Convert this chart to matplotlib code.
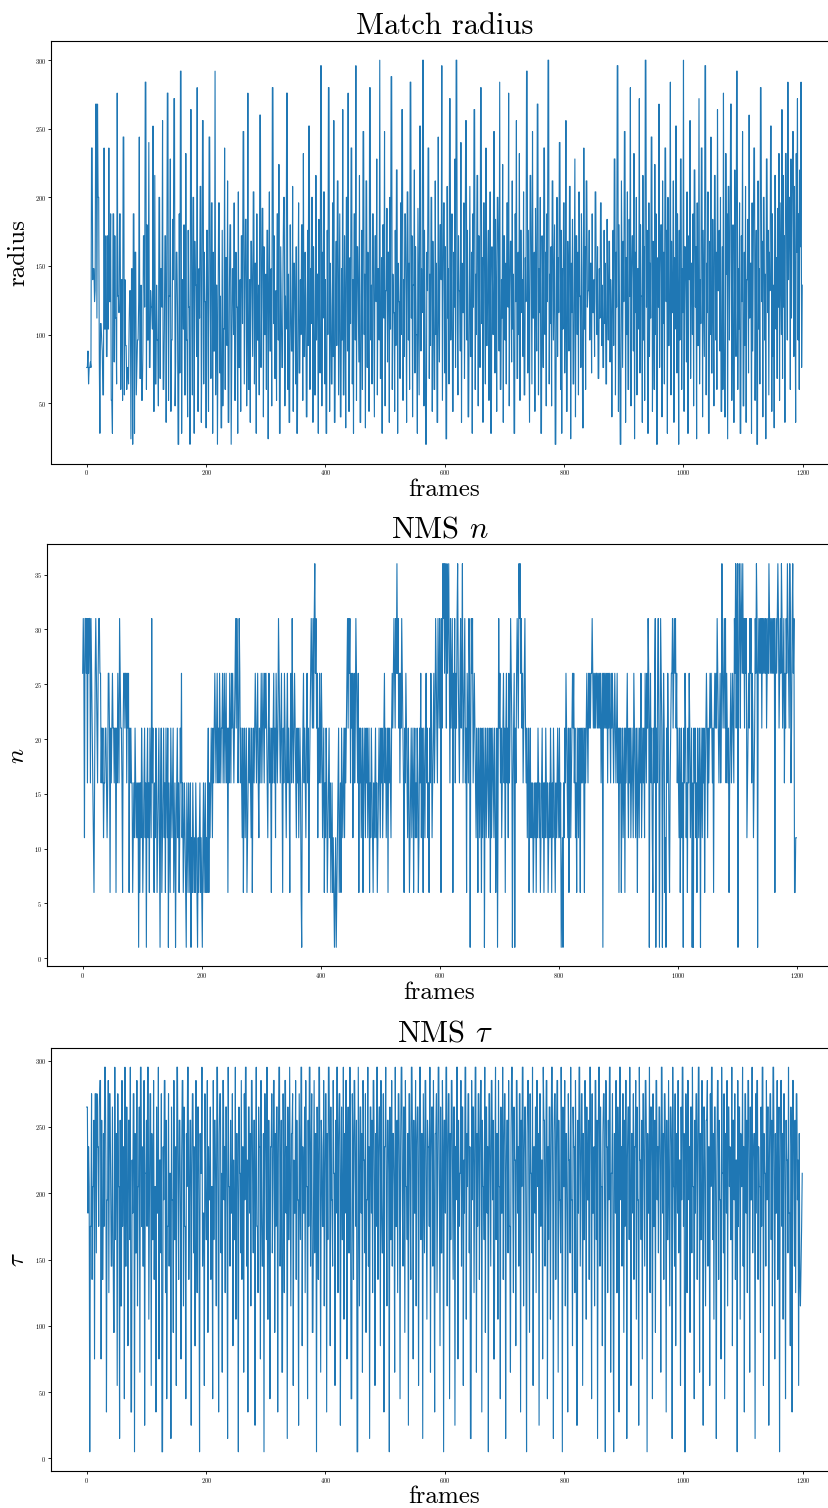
import numpy as np
import matplotlib
matplotlib.use("Agg")
import matplotlib.pyplot as plt

plt.rcParams['font.family'] = 'serif'
plt.rcParams['font.serif'] = ['cmr10']
plt.rcParams['mathtext.fontset'] = 'cm'
plt.rcParams['axes.formatter.use_mathtext'] = True

# match radius per frame
radius = [
    76, 76, 88, 64, 76, 76, 80, 76, 236, 236, 140, 148, 148, 124, 132, 268, 268, 112, 268, 200, 200, 80, 28, 108, 108, 96, 88, 56, 56, 236, 104, 104, 172, 84, 84, 172, 104, 236, 124, 124,
    188, 52, 52, 28, 188, 188, 80, 172, 112, 112, 64, 276, 128, 128, 116, 188, 188, 60, 140, 140, 52, 244, 244, 56, 140, 92, 92, 60, 76, 76, 64, 108, 132, 132, 24, 148, 148, 20, 188, 188,
    28, 160, 160, 56, 76, 96, 96, 124, 244, 68, 68, 136, 52, 52, 88, 172, 172, 120, 284, 284, 60, 180, 96, 96, 240, 76, 76, 132, 120, 120, 104, 252, 44, 44, 216, 64, 64, 136, 96, 96,
    48, 200, 200, 68, 148, 148, 120, 256, 60, 60, 104, 172, 172, 36, 116, 276, 276, 52, 128, 128, 228, 44, 96, 96, 184, 140, 272, 272, 48, 80, 160, 160, 120, 20, 20, 188, 72, 292, 292, 28,
    140, 140, 104, 180, 56, 56, 232, 96, 96, 40, 176, 120, 120, 20, 264, 264, 104, 56, 200, 200, 28, 168, 136, 136, 84, 280, 44, 44, 148, 112, 208, 208, 36, 100, 256, 256, 64, 160, 124, 124,
    32, 176, 176, 92, 44, 244, 244, 120, 68, 196, 196, 28, 160, 88, 88, 292, 56, 136, 136, 20, 116, 196, 196, 72, 128, 32, 32, 176, 48, 104, 104, 236, 60, 156, 156, 92, 212, 36, 36, 132,
    180, 180, 20, 88, 148, 148, 100, 196, 52, 52, 160, 120, 120, 28, 204, 76, 76, 140, 44, 172, 172, 108, 248, 248, 64, 124, 184, 184, 48, 100, 276, 60, 60, 140, 36, 168, 168, 124, 84, 204,
    204, 64, 152, 152, 28, 188, 96, 96, 136, 56, 260, 260, 76, 120, 192, 192, 40, 164, 100, 100, 144, 60, 176, 176, 24, 128, 204, 88, 88, 148, 48, 280, 280, 108, 172, 68, 68, 132, 52, 188,
    188, 96, 224, 28, 28, 164, 116, 76, 76, 156, 200, 200, 48, 128, 104, 276, 276, 60, 144, 36, 36, 180, 120, 88, 88, 208, 44, 152, 152, 112, 64, 164, 28, 28, 128, 196, 72, 72, 140, 100,
    180, 180, 52, 232, 84, 84, 160, 124, 40, 40, 176, 92, 252, 252, 60, 148, 108, 200, 200, 36, 164, 124, 56, 56, 216, 96, 144, 144, 28, 184, 120, 72, 296, 296, 48, 160, 112, 204, 204, 64,
    140, 28, 28, 176, 100, 280, 280, 44, 152, 120, 64, 64, 196, 84, 256, 36, 36, 132, 168, 92, 212, 212, 56, 124, 188, 40, 40, 148, 96, 264, 56, 56, 172, 120, 32, 200, 200, 88, 276, 44,
    44, 156, 108, 236, 236, 64, 140, 28, 188, 188, 96, 296, 52, 164, 164, 124, 80, 216, 36, 36, 128, 176, 60, 248, 248, 100, 144, 32, 212, 212, 76, 160, 116, 44, 280, 280, 96, 136, 64, 188,
    188, 108, 40, 172, 172, 124, 228, 56, 148, 148, 96, 300, 68, 68, 156, 28, 180, 180, 112, 248, 48, 132, 132, 192, 80, 160, 160, 36, 200, 104, 288, 288, 60, 144, 116, 116, 44, 176, 92, 220,
    220, 28, 152, 124, 124, 68, 196, 100, 264, 264, 52, 140, 84, 188, 188, 128, 36, 204, 204, 96, 152, 60, 284, 284, 112, 172, 40, 136, 136, 220, 72, 164, 100, 100, 28, 192, 124, 56, 252, 252,
    88, 148, 116, 300, 300, 48, 176, 104, 20, 20, 160, 132, 236, 236, 68, 144, 92, 200, 200, 44, 168, 120, 60, 60, 212, 100, 152, 36, 36, 244, 116, 80, 180, 180, 140, 296, 52, 128, 196, 196,
    72, 164, 24, 24, 208, 112, 148, 64, 272, 272, 96, 136, 188, 44, 44, 160, 120, 228, 76, 300, 300, 104, 56, 172, 132, 132, 88, 240, 36, 152, 116, 116, 196, 68, 140, 256, 256, 96, 176, 40,
    40, 124, 208, 84, 84, 160, 28, 188, 120, 264, 264, 60, 144, 100, 216, 216, 48, 172, 132, 76, 280, 280, 108, 156, 36, 196, 196, 120, 64, 236, 92, 92, 148, 176, 52, 112, 204, 28, 28, 164,
    136, 100, 248, 248, 72, 184, 128, 44, 200, 200, 156, 88, 284, 60, 60, 140, 112, 224, 36, 172, 172, 96, 152, 64, 196, 196, 120, 276, 48, 132, 168, 168, 80, 212, 104, 144, 28, 28, 188, 124,
    256, 68, 68, 160, 100, 232, 52, 176, 176, 116, 140, 84, 204, 56, 56, 156, 124, 292, 292, 72, 176, 100, 36, 216, 216, 136, 64, 248, 112, 112, 160, 44, 192, 128, 88, 268, 268, 56, 148, 116,
    200, 28, 28, 172, 136, 76, 236, 236, 100, 160, 48, 188, 124, 300, 300, 64, 144, 108, 164, 48, 212, 212, 96, 140, 180, 20, 20, 132, 200, 84, 156, 116, 240, 240, 60, 176, 28, 148, 104, 196,
    196, 72, 120, 256, 44, 44, 168, 136, 88, 208, 208, 24, 152, 116, 184, 64, 64, 140, 228, 40, 172, 172, 100, 160, 56, 204, 128, 128, 76, 188, 148, 32, 32, 236, 104, 164, 60, 212, 212, 120,
    132, 132, 176, 96, 152, 152, 72, 188, 116, 116, 140, 84, 204, 204, 124, 100, 164, 68, 68, 148, 112, 196, 196, 92, 136, 76, 76, 176, 108, 152, 64, 64, 184, 128, 96, 168, 168, 80, 140, 116,
    40, 132, 176, 92, 228, 228, 56, 160, 120, 296, 296, 44, 180, 104, 20, 20, 212, 140, 76, 168, 124, 248, 248, 36, 156, 100, 204, 60, 60, 184, 128, 280, 48, 140, 172, 172, 88, 232, 24, 160,
    116, 200, 56, 148, 148, 104, 272, 72, 180, 128, 128, 36, 216, 96, 164, 52, 300, 300, 120, 176, 28, 28, 196, 84, 152, 112, 244, 244, 44, 168, 132, 60, 224, 100, 188, 20, 20, 156, 120, 268,
    76, 144, 180, 180, 40, 212, 108, 160, 64, 236, 236, 124, 176, 28, 200, 92, 92, 148, 284, 56, 168, 116, 116, 212, 36, 156, 104, 252, 252, 72, 188, 132, 20, 176, 96, 228, 228, 60, 148, 116,
    300, 44, 164, 164, 128, 80, 204, 28, 28, 172, 140, 256, 68, 152, 152, 100, 188, 48, 220, 220, 120, 164, 24, 196, 92, 92, 272, 64, 140, 108, 236, 236, 40, 176, 132, 84, 296, 296, 56, 152,
    116, 204, 28, 28, 168, 100, 244, 72, 72, 184, 124, 48, 216, 216, 96, 160, 60, 264, 132, 132, 176, 88, 200, 44, 44, 164, 60, 276, 112, 40, 40, 232, 144, 188, 24, 208, 208, 96, 156, 268,
    268, 52, 132, 180, 36, 36, 220, 120, 84, 292, 292, 60, 148, 104, 196, 28, 28, 172, 124, 248, 48, 48, 160, 92, 208, 36, 140, 140, 184, 72, 260, 112, 152, 152, 28, 196, 88, 156, 236, 236,
    52, 128, 176, 20, 20, 212, 104, 148, 64, 280, 280, 124, 168, 40, 200, 200, 96, 144, 24, 228, 228, 116, 176, 56, 160, 132, 252, 252, 44, 188, 84, 136, 32, 216, 216, 104, 156, 68, 192, 120,
    232, 52, 196, 148, 100, 264, 68, 216, 120, 172, 36, 232, 232, 156, 96, 284, 140, 200, 200, 60, 228, 112, 176, 248, 248, 84, 208, 132, 36, 232, 160, 272, 96, 188, 60, 220, 164, 284, 76, 136,
]

# NMS n per frame
nms_n = [
    26, 31, 26, 11, 31, 31, 26, 31, 16, 31, 26, 31, 31, 16, 31, 26, 21, 16, 11, 6, 16, 26, 31, 26, 21, 16, 26, 31, 31, 26, 26, 16, 21, 16, 21, 11, 16, 16, 21, 21,
    16, 11, 16, 26, 26, 21, 6, 21, 16, 21, 26, 21, 21, 16, 21, 21, 6, 21, 16, 26, 21, 16, 31, 26, 21, 21, 16, 6, 21, 26, 26, 21, 26, 26, 16, 26, 21, 26, 6, 21,
    16, 21, 16, 16, 6, 11, 16, 11, 21, 16, 11, 16, 11, 16, 1, 16, 6, 16, 11, 21, 16, 6, 11, 16, 21, 11, 16, 1, 16, 21, 11, 16, 6, 21, 16, 11, 31, 16, 21, 11,
    6, 16, 11, 21, 16, 6, 11, 16, 21, 11, 1, 16, 21, 6, 11, 16, 21, 11, 16, 6, 21, 16, 11, 21, 1, 16, 11, 6, 21, 16, 11, 16, 21, 6, 11, 16, 1, 11, 16, 21,
    11, 16, 6, 11, 21, 16, 26, 11, 16, 6, 11, 16, 11, 6, 1, 16, 11, 6, 16, 11, 6, 16, 1, 11, 6, 16, 11, 6, 11, 6, 16, 11, 6, 1, 11, 6, 11, 16, 6, 11,
    6, 1, 11, 16, 6, 11, 16, 6, 11, 6, 16, 21, 6, 16, 11, 16, 21, 16, 11, 21, 16, 21, 26, 21, 16, 21, 26, 16, 21, 16, 26, 21, 16, 21, 21, 26, 16, 21, 26, 16,
    21, 26, 16, 21, 6, 21, 16, 26, 21, 16, 26, 21, 26, 21, 16, 21, 26, 31, 21, 31, 26, 16, 21, 31, 26, 16, 21, 16, 11, 21, 6, 16, 21, 11, 16, 21, 6, 11, 16, 21,
    16, 21, 16, 11, 21, 6, 16, 21, 16, 21, 26, 21, 16, 21, 26, 16, 11, 21, 16, 21, 26, 16, 21, 26, 21, 16, 26, 21, 26, 21, 16, 11, 21, 26, 16, 21, 16, 6, 21, 16,
    21, 26, 16, 21, 11, 26, 21, 16, 21, 31, 26, 21, 16, 21, 26, 16, 6, 21, 16, 26, 21, 16, 11, 21, 26, 16, 21, 16, 6, 21, 26, 16, 31, 21, 16, 21, 26, 21, 16, 11,
    21, 16, 21, 11, 16, 21, 16, 6, 1, 16, 21, 26, 16, 21, 16, 11, 21, 26, 16, 21, 6, 16, 21, 26, 31, 26, 21, 31, 21, 31, 36, 26, 31, 21, 26, 11, 21, 16, 26, 21,
    16, 26, 21, 11, 16, 21, 6, 16, 11, 21, 16, 6, 11, 16, 21, 11, 16, 6, 11, 16, 6, 11, 6, 1, 6, 11, 1, 6, 11, 16, 21, 6, 11, 16, 6, 21, 16, 11, 16, 21,
    11, 21, 16, 21, 26, 31, 21, 31, 26, 31, 16, 26, 21, 26, 11, 21, 26, 16, 21, 31, 26, 21, 16, 26, 6, 21, 16, 21, 11, 16, 21, 6, 16, 21, 16, 11, 21, 16, 21, 11,
    16, 21, 6, 16, 11, 21, 16, 11, 6, 16, 11, 16, 21, 11, 16, 6, 11, 16, 21, 16, 11, 21, 16, 21, 11, 16, 21, 26, 16, 21, 11, 16, 21, 6, 21, 16, 21, 16, 11, 21,
    26, 21, 26, 31, 26, 21, 31, 26, 36, 26, 31, 21, 26, 16, 26, 21, 31, 26, 21, 16, 6, 21, 16, 26, 21, 16, 11, 21, 16, 6, 11, 16, 21, 11, 16, 21, 6, 16, 21, 11,
    16, 11, 21, 16, 6, 11, 21, 16, 26, 11, 21, 16, 6, 21, 16, 11, 21, 26, 16, 21, 11, 16, 6, 21, 16, 26, 21, 11, 16, 21, 26, 16, 21, 31, 26, 21, 16, 31, 26, 21,
    31, 26, 6, 31, 21, 36, 31, 36, 26, 36, 31, 21, 36, 26, 31, 36, 26, 16, 31, 21, 26, 31, 6, 26, 21, 31, 16, 26, 21, 31, 36, 26, 21, 16, 26, 31, 21, 26, 36, 16,
    21, 26, 31, 16, 21, 6, 26, 21, 16, 31, 26, 1, 21, 31, 26, 31, 16, 21, 26, 21, 16, 11, 21, 16, 6, 21, 16, 11, 21, 16, 6, 21, 11, 16, 21, 1, 16, 21, 11, 16,
    21, 16, 11, 21, 16, 6, 21, 11, 16, 21, 16, 11, 21, 16, 6, 11, 21, 1, 16, 31, 21, 26, 16, 21, 11, 16, 21, 26, 16, 21, 6, 21, 26, 16, 21, 11, 26, 16, 21, 31,
    26, 21, 1, 16, 21, 26, 1, 21, 16, 26, 31, 26, 21, 36, 31, 36, 26, 31, 21, 26, 16, 21, 26, 31, 21, 16, 21, 11, 16, 21, 6, 16, 21, 11, 16, 11, 16, 6, 11, 16,
    11, 16, 6, 16, 11, 21, 16, 11, 16, 6, 11, 16, 21, 11, 16, 6, 16, 11, 21, 16, 11, 16, 6, 11, 16, 11, 21, 16, 6, 16, 11, 21, 16, 11, 6, 16, 11, 16, 21, 11,
    16, 21, 11, 16, 1, 6, 11, 1, 16, 11, 21, 16, 26, 21, 16, 11, 21, 6, 16, 21, 11, 16, 21, 26, 21, 26, 16, 21, 11, 16, 6, 21, 16, 11, 21, 16, 6, 21, 16, 21,
    16, 21, 16, 6, 21, 16, 21, 26, 21, 16, 26, 21, 26, 21, 26, 26, 31, 26, 21, 26, 21, 26, 21, 26, 26, 21, 26, 21, 26, 21, 26, 16, 21, 26, 1, 26, 21, 26, 21, 26,
    21, 26, 16, 26, 21, 26, 21, 16, 26, 21, 26, 21, 16, 21, 26, 21, 16, 21, 26, 16, 21, 6, 21, 16, 21, 6, 16, 21, 11, 16, 21, 6, 21, 16, 21, 26, 16, 11, 21, 16,
    21, 11, 16, 21, 16, 11, 26, 21, 16, 11, 21, 16, 6, 21, 16, 11, 21, 16, 26, 11, 16, 21, 16, 21, 11, 26, 21, 16, 26, 21, 31, 26, 1, 21, 26, 16, 21, 11, 6, 21,
    16, 26, 31, 1, 21, 16, 26, 31, 21, 1, 16, 31, 26, 21, 1, 16, 26, 21, 6, 11, 1, 21, 16, 26, 21, 11, 6, 16, 21, 26, 26, 31, 21, 26, 31, 26, 31, 21, 26, 16,
    21, 16, 11, 21, 6, 16, 21, 11, 16, 1, 21, 16, 26, 21, 11, 16, 6, 21, 16, 26, 21, 11, 16, 21, 1, 16, 1, 21, 16, 21, 11, 16, 6, 21, 16, 11, 21, 16, 1, 21,
    16, 11, 21, 16, 21, 6, 16, 21, 26, 21, 11, 21, 16, 21, 26, 21, 26, 21, 16, 21, 6, 21, 26, 21, 26, 21, 31, 26, 21, 16, 21, 26, 16, 21, 36, 26, 21, 26, 31, 21,
    31, 16, 26, 21, 16, 21, 6, 16, 21, 26, 16, 21, 26, 21, 16, 31, 26, 36, 21, 31, 36, 1, 26, 36, 31, 21, 36, 31, 26, 36, 26, 31, 21, 31, 26, 31, 11, 16, 21, 26,
    21, 31, 26, 31, 16, 26, 21, 11, 16, 21, 31, 26, 36, 31, 1, 26, 31, 26, 31, 26, 31, 21, 31, 26, 31, 26, 31, 26, 31, 21, 26, 31, 26, 36, 31, 26, 31, 26, 31, 26,
    31, 26, 31, 6, 26, 31, 26, 31, 36, 31, 21, 26, 31, 26, 36, 31, 21, 26, 31, 16, 26, 21, 31, 26, 36, 31, 26, 21, 36, 31, 16, 21, 31, 36, 26, 31, 6, 6, 11, 11,
]

# NMS tau per frame
nms_tau = [
    265, 265, 185, 235, 205, 5, 175, 175, 275, 135, 205, 205, 255, 75, 275, 275, 155, 275, 235, 235, 175, 265, 285, 285, 75, 255, 135, 135, 245, 175, 295, 295, 225, 35, 195, 195, 285, 125, 275, 275,
    215, 145, 145, 265, 185, 95, 95, 295, 165, 245, 245, 55, 275, 205, 205, 15, 255, 115, 115, 285, 175, 235, 235, 45, 295, 145, 145, 265, 195, 85, 255, 255, 165, 295, 35, 35, 225, 185, 275, 275,
    5, 245, 155, 155, 285, 115, 205, 205, 265, 65, 295, 295, 175, 235, 145, 145, 285, 25, 215, 215, 255, 175, 295, 295, 105, 195, 275, 275, 55, 245, 165, 165, 285, 135, 205, 205, 35, 265, 185, 185,
    295, 75, 225, 225, 155, 275, 5, 5, 235, 195, 285, 285, 125, 255, 45, 175, 175, 275, 145, 215, 215, 15, 265, 195, 195, 95, 285, 165, 165, 235, 55, 295, 295, 205, 135, 255, 255, 185, 75, 225,
    285, 285, 115, 265, 175, 175, 45, 245, 205, 295, 295, 135, 185, 255, 255, 25, 215, 275, 275, 155, 235, 85, 85, 285, 195, 125, 265, 265, 175, 5, 245, 215, 215, 295, 145, 185, 185, 55, 275, 225,
    165, 165, 285, 95, 235, 195, 195, 265, 135, 205, 205, 45, 285, 165, 255, 255, 205, 115, 295, 295, 185, 35, 245, 275, 275, 155, 215, 65, 285, 285, 195, 235, 125, 265, 265, 175, 15, 295, 205, 205,
    145, 255, 185, 185, 275, 85, 225, 165, 165, 295, 105, 245, 245, 195, 5, 265, 215, 215, 155, 285, 135, 235, 235, 65, 275, 195, 295, 295, 145, 225, 35, 265, 265, 185, 245, 115, 285, 285, 205, 155,
    255, 255, 25, 215, 295, 175, 175, 125, 265, 235, 235, 75, 285, 195, 145, 145, 245, 5, 275, 275, 215, 165, 295, 105, 105, 255, 185, 45, 235, 235, 275, 155, 205, 285, 285, 95, 245, 175, 265, 265,
    35, 225, 295, 295, 145, 195, 255, 65, 65, 275, 215, 125, 285, 285, 185, 235, 15, 265, 165, 165, 295, 205, 115, 245, 245, 275, 55, 225, 185, 185, 285, 135, 255, 195, 195, 25, 275, 215, 165, 295,
    295, 85, 235, 185, 185, 265, 125, 285, 205, 205, 45, 255, 175, 295, 295, 145, 225, 275, 95, 95, 195, 285, 155, 245, 245, 5, 265, 215, 135, 295, 295, 185, 65, 255, 235, 175, 175, 285, 115, 205,
    275, 275, 35, 245, 165, 295, 295, 225, 85, 265, 195, 195, 145, 285, 215, 215, 55, 255, 185, 295, 295, 125, 235, 275, 275, 25, 205, 265, 165, 165, 295, 105, 245, 185, 285, 285, 75, 225, 265, 155,
    155, 295, 195, 45, 45, 275, 235, 135, 285, 285, 215, 175, 255, 5, 5, 295, 205, 115, 265, 265, 185, 245, 65, 285, 225, 225, 155, 275, 95, 195, 195, 295, 145, 235, 15, 265, 265, 185, 255, 125,
    285, 285, 205, 55, 245, 175, 295, 295, 135, 225, 265, 265, 85, 285, 195, 155, 155, 275, 35, 235, 235, 295, 185, 115, 255, 255, 215, 5, 265, 165, 165, 285, 145, 245, 245, 205, 65, 295, 175, 175,
    255, 125, 275, 275, 215, 45, 235, 295, 295, 185, 145, 265, 265, 95, 285, 205, 205, 165, 245, 25, 275, 275, 195, 135, 295, 295, 225, 75, 255, 185, 185, 285, 115, 235, 265, 265, 55, 205, 295, 295,
    165, 245, 245, 15, 275, 215, 155, 285, 285, 195, 105, 255, 235, 235, 175, 295, 65, 225, 265, 265, 145, 285, 185, 35, 245, 245, 275, 125, 215, 295, 295, 195, 85, 265, 155, 155, 285, 235, 5, 255,
    255, 185, 295, 295, 115, 225, 275, 275, 45, 245, 165, 285, 285, 205, 135, 265, 265, 25, 235, 195, 295, 295, 75, 255, 175, 215, 215, 285, 145, 265, 265, 55, 225, 185, 295, 295, 105, 245, 205, 275,
    275, 155, 235, 15, 15, 285, 195, 265, 265, 125, 215, 295, 295, 65, 245, 175, 275, 275, 135, 225, 285, 285, 35, 255, 205, 205, 165, 295, 95, 265, 265, 185, 235, 5, 275, 275, 215, 145, 285, 285,
    195, 255, 75, 75, 225, 295, 165, 245, 245, 105, 285, 205, 205, 45, 265, 185, 185, 295, 135, 235, 275, 275, 15, 215, 255, 255, 155, 285, 175, 175, 65, 245, 295, 295, 195, 125, 265, 225, 225, 85,
    285, 285, 185, 235, 145, 275, 275, 35, 255, 205, 295, 295, 115, 225, 265, 265, 165, 5, 245, 285, 285, 195, 95, 275, 215, 215, 155, 295, 55, 235, 235, 185, 265, 125, 285, 285, 205, 245, 25, 275,
    275, 175, 225, 225, 75, 295, 255, 255, 145, 195, 285, 285, 45, 235, 165, 265, 265, 105, 215, 295, 295, 185, 15, 245, 275, 275, 135, 225, 285, 285, 65, 255, 195, 195, 155, 295, 235, 5, 265, 205,
    205, 285, 115, 245, 245, 175, 35, 275, 225, 225, 155, 295, 195, 195, 85, 265, 235, 235, 125, 285, 205, 25, 25, 255, 185, 295, 295, 145, 215, 275, 275, 55, 245, 165, 165, 285, 235, 105, 265, 195,
    195, 255, 135, 295, 295, 215, 45, 275, 185, 185, 235, 115, 285, 285, 165, 255, 15, 225, 295, 295, 145, 265, 205, 205, 85, 245, 275, 275, 175, 5, 285, 235, 235, 125, 255, 195, 295, 295, 65, 215,
    215, 275, 155, 5, 245, 245, 185, 285, 125, 125, 265, 215, 35, 295, 295, 195, 235, 145, 275, 275, 95, 255, 175, 285, 285, 15, 225, 265, 265, 165, 295, 205, 55, 245, 245, 185, 275, 135, 235, 235,
    285, 105, 265, 195, 195, 25, 295, 225, 225, 165, 255, 75, 275, 275, 205, 145, 285, 285, 235, 5, 245, 185, 185, 295, 125, 265, 265, 215, 45, 275, 175, 175, 255, 95, 285, 285, 195, 235, 155, 265,
    265, 215, 65, 295, 295, 185, 245, 135, 275, 275, 225, 35, 255, 165, 165, 285, 195, 115, 265, 265, 235, 15, 295, 205, 205, 145, 275, 85, 245, 245, 185, 285, 155, 225, 225, 55, 265, 195, 295, 295,
    175, 245, 5, 5, 275, 215, 125, 285, 285, 195, 235, 95, 265, 265, 155, 295, 205, 205, 45, 255, 185, 275, 275, 135, 225, 295, 295, 65, 245, 165, 165, 285, 215, 25, 265, 265, 195, 115, 255, 255,
    285, 145, 235, 235, 55, 275, 205, 295, 295, 165, 245, 105, 265, 265, 185, 15, 225, 285, 285, 135, 255, 195, 195, 75, 295, 215, 215, 155, 275, 45, 245, 245, 185, 285, 115, 265, 265, 205, 235, 165,
    165, 295, 85, 255, 255, 195, 275, 135, 225, 225, 5, 285, 175, 265, 265, 105, 245, 205, 205, 295, 145, 235, 35, 275, 275, 185, 255, 125, 285, 285, 215, 65, 265, 195, 195, 295, 155, 225, 245, 245,
    15, 275, 185, 285, 285, 135, 235, 205, 205, 95, 265, 175, 295, 295, 55, 245, 215, 215, 145, 285, 195, 265, 265, 25, 225, 275, 275, 165, 255, 115, 295, 295, 205, 75, 245, 185, 185, 285, 135, 235,
    265, 5, 215, 285, 285, 175, 245, 105, 275, 275, 195, 45, 255, 225, 225, 155, 295, 185, 185, 85, 265, 235, 35, 285, 285, 205, 145, 255, 125, 275, 275, 195, 225, 55, 245, 135, 115, 145, 175, 215,
]

panels = [
    (radius, "Match radius", "radius"),
    (nms_n, r"NMS $n$", r"$n$"),
    (nms_tau, r"NMS $\tau$", r"$\tau$"),
]

W, H = 829, 1508
# axes boxes in pixels: left, top, right, bottom
boxes = [(51, 41, 838, 463.5), (47, 544.5, 832, 966.5), (51, 1048, 838, 1471)]

fig = plt.figure(figsize=(W / 100, H / 100), dpi=100)
for (vals, title, ylab), (l, t, r, b) in zip(panels, boxes):
    ax = fig.add_axes([l / W, 1 - b / H, (r - l) / W, (b - t) / H])
    frames = np.arange(len(vals))
    ax.plot(frames, vals, color='#1f77b4', lw=0.8)
    ax.set_xlim(-59.95, 1258.95)
    ax.set_title(title, fontsize=22, pad=5)
    ax.set_xlabel("frames", fontsize=18, labelpad=1)
    ax.set_ylabel(ylab, fontsize=18, labelpad=4)
    ax.tick_params(labelsize=4.5, length=2, width=0.6, pad=1.5)
    ax.set_xticks([0, 200, 400, 600, 800, 1000, 1200])

fig.savefig("out.png", dpi=100)
